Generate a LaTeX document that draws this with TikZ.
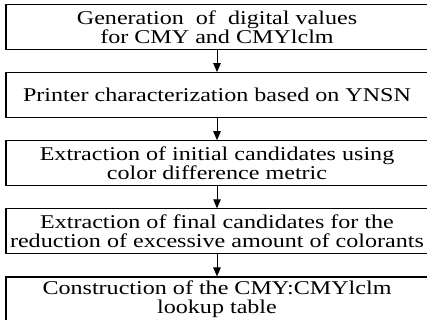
\documentclass[tikz,border=0pt]{standalone}
\usepackage{fontspec}
\setmainfont[FakeStretch=1.235]{Liberation Serif}
\usepackage{tikz}
\usetikzlibrary{positioning,arrows.meta}

\begin{document}
\begin{tikzpicture}[x=1pt,y=1pt,
        stepbox/.style={draw,line width=1.1pt,anchor=north,minimum width=422pt,minimum height=45pt,
            align=center,inner sep=0pt,
            font=\fontsize{19.5}{19}\selectfont},
        flow/.style={-{Triangle[length=9pt,width=7.5pt]},line width=0.9pt},
        node distance=22pt]
        \useasboundingbox (0,0) rectangle (427,-320);
        \node[stepbox] (gen) at (217,-4) {Generation~ of~ digital values\\for CMY and CMYlclm};
        \node[stepbox,below=of gen] (prn) {Printer characterization based on YNSN};
        \node[stepbox,below=of prn] (init) {Extraction of initial candidates using\\color difference metric};
        \node[stepbox,below=of init] (fin) {Extraction of final candidates for the\\reduction of excessive amount of colorants};
        \node[stepbox,below=of fin] (lut) {Construction of the CMY:CMYlclm\\lookup table};
        \draw[flow] (gen) -- (prn);
        \draw[flow] (prn) -- (init);
        \draw[flow] (init) -- (fin);
        \draw[flow] (fin) -- (lut);
    \end{tikzpicture}
\end{document}
